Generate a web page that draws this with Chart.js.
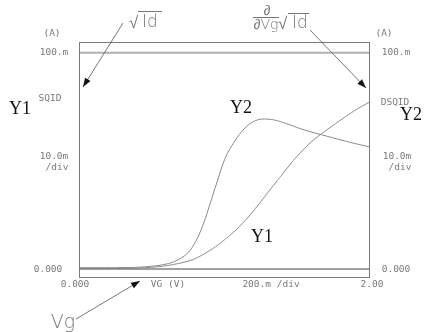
<!DOCTYPE html>
<html>
<head>
<meta charset="utf-8">
<script src="https://cdn.jsdelivr.net/npm/chart.js@4"></script>
<style>
html,body{margin:0;padding:0;background:#fff;}
#c{display:block;}
</style>
</head>
<body>
<canvas id="c" width="431" height="332"></canvas>
<script>
// Gate voltage VG (V)
const vg = [0.00,0.05,0.10,0.15,0.20,0.25,0.30,0.35,0.40,0.45,0.50,0.55,0.60,0.65,0.70,0.75,0.80,0.85,0.90,0.95,1.00,1.05,1.10,1.15,1.20,1.25,1.30,1.35,1.40,1.45,1.50,1.55,1.60,1.65,1.70,1.75,1.80,1.85,1.90,1.95,2.00];
// Y1: SQID = sqrt(|Id|)   (mA units, axis 10.0m/div)
const sqid = [0.3,0.3,0.3,0.3,0.3,0.3,0.3,0.35,0.4,0.6,0.8,1.1,1.5,2.1,2.8,3.6,4.8,6.6,8.6,10.9,13.5,16.3,19.4,23.0,27.0,31.2,35.5,39.8,44.0,48.3,52.2,55.8,59.0,61.7,64.2,66.6,69.0,71.3,73.5,75.5,77.3];
// Y2: DSQID = d/dVg sqrt(|Id|)
const dsqid = [0.6,0.6,0.6,0.6,0.6,0.6,0.7,0.7,0.8,1.0,1.3,1.7,2.3,3.3,5.0,7.6,12.5,20.0,30.0,40.5,50.5,57.0,62.0,65.8,68.2,69.3,69.3,68.8,67.8,66.7,65.4,64.3,63.3,62.4,61.5,60.6,59.7,58.8,58.0,57.2,56.4];
// reference levels (mA)
const refLevels = [0, 100];
// tick labels
const xTickLabels = ["0.000", "VG (V)", "200.m /div", "2.00"];
const yTickLabels = ["(A)", "100.m", "10.0m", "/div", "0.000"];

const pts = (ys) => vg.map((x,i)=>({x:x, y:ys[i]}));

const mono = '9.5px "DejaVu Sans Mono", monospace';
const labelColor = '#7a7a7a';

const overlay = {
  id:'overlay',
  afterDraw(chart){
    const ctx = chart.ctx;
    const a = chart.chartArea;
    const xs = chart.scales.x, ys = chart.scales.y;
    ctx.save();
    // frame
    ctx.strokeStyle = '#7a7a7a';
    ctx.lineWidth = 1;
    ctx.strokeRect(Math.round(a.left)+0.5, Math.round(a.top)+0.5, Math.round(a.right-a.left)-1, Math.round(a.bottom-a.top));

    ctx.fillStyle = labelColor;
    ctx.font = mono;
    ctx.textBaseline = 'middle';
    ctx.textAlign = 'center';
    const y0 = ys.getPixelForValue(0), y100 = ys.getPixelForValue(100);
    // left axis labels
    ctx.fillText(yTickLabels[0], 52, 34);
    ctx.fillText(yTickLabels[1], 54, y100);
    ctx.fillText('SQID', 50, 99);
    ctx.fillText(yTickLabels[2], 54, 157);
    ctx.fillText(yTickLabels[3], 57, 168);
    ctx.fillText(yTickLabels[4], 48, y0+1);
    // right axis labels
    ctx.fillText(yTickLabels[0], 384, 34);
    ctx.fillText(yTickLabels[1], 396, y100);
    ctx.fillText('DSQID', 395, 103);
    ctx.fillText(yTickLabels[2], 397, 157);
    ctx.fillText(yTickLabels[3], 400, 168);
    ctx.fillText(yTickLabels[4], 396, y0+1);
    // bottom labels
    const yb = 285;
    ctx.fillText(xTickLabels[0], xs.getPixelForValue(0)-4, yb);
    ctx.fillText(xTickLabels[1], 168, yb);
    ctx.fillText(xTickLabels[2], 271, yb);
    ctx.fillText(xTickLabels[3], xs.getPixelForValue(2)+2, yb);

    // Y1/Y2 serif labels
    ctx.fillStyle = '#111';
    ctx.font = '18px "Liberation Serif", serif';
    ctx.fillText('Y1', 20, 109);
    ctx.fillText('Y2', 411, 115);
    ctx.fillText('Y2', 241, 108);
    ctx.fillText('Y1', 262, 237);

    // annotation text
    ctx.fillStyle = '#777';
    ctx.strokeStyle = '#777';
    ctx.font = '300 17px "DejaVu Sans", sans-serif';
    ctx.textAlign = 'left';
    ctx.textBaseline = 'alphabetic';
    // sqrt Id (left)
    ctx.fillText('√', 129, 28);
    ctx.fillText('Id', 142, 27);
    ctx.lineWidth = 1;
    ctx.beginPath(); ctx.moveTo(138, 11.5); ctx.lineTo(162, 11.5); ctx.stroke();
    // d/dVg sqrt Id (right)
    ctx.font = '300 14px "DejaVu Sans", sans-serif';
    ctx.textAlign = 'center';
    ctx.fillText('∂', 267, 15);
    ctx.beginPath(); ctx.moveTo(253, 17.5); ctx.lineTo(279, 17.5); ctx.stroke();
    ctx.fillText('∂Vg', 266, 29);
    ctx.textAlign = 'left';
    ctx.font = '300 17px "DejaVu Sans", sans-serif';
    ctx.fillText('√', 278, 29);
    ctx.fillText('Id', 292, 28);
    ctx.beginPath(); ctx.moveTo(288, 13.5); ctx.lineTo(309, 13.5); ctx.stroke();
    // Vg bottom
    ctx.font = '300 19px "DejaVu Sans", sans-serif';
    ctx.textAlign = 'center';
    ctx.fillText('Vg', 63, 328);

    // arrows
    function arrow(x1,y1,x2,y2){
      ctx.strokeStyle = '#555';
      ctx.fillStyle = '#111';
      ctx.lineWidth = 0.8;
      ctx.beginPath(); ctx.moveTo(x1,y1); ctx.lineTo(x2,y2); ctx.stroke();
      const ang = Math.atan2(y2-y1, x2-x1);
      const L = 9, W = 3.2;
      const bx = x2 - L*Math.cos(ang), by = y2 - L*Math.sin(ang);
      ctx.beginPath();
      ctx.moveTo(x2,y2);
      ctx.lineTo(bx + W*Math.sin(ang), by - W*Math.cos(ang));
      ctx.lineTo(bx - W*Math.sin(ang), by + W*Math.cos(ang));
      ctx.closePath(); ctx.fill();
    }
    arrow(123, 23, 83, 87);
    arrow(310, 30, 366, 88);
    arrow(76, 319, 140, 281);
    ctx.restore();
  }
};

new Chart(document.getElementById('c'), {
  type: 'scatter',
  data: {
    datasets: [
      { label:'ref0', data: [{x:0,y:refLevels[0]},{x:2,y:refLevels[0]}], showLine:true, borderColor:'#808080', borderWidth:1.5, pointRadius:0 },
      { label:'ref100', data: [{x:0,y:refLevels[1]},{x:2,y:refLevels[1]}], showLine:true, borderColor:'#b0b0b0', borderWidth:2, pointRadius:0 },
      { label:'SQID', data: pts(sqid), showLine:true, borderColor:'#8a8a8a', borderWidth:1, pointRadius:0, tension:0.4 },
      { label:'DSQID', data: pts(dsqid), showLine:true, borderColor:'#8a8a8a', borderWidth:1, pointRadius:0, tension:0.4 }
    ]
  },
  options: {
    responsive:false,
    animation:false,
    devicePixelRatio:1,
    layout:{ padding:{ left:79, right:61, top:42, bottom:55 } },
    plugins:{ legend:{display:false}, tooltip:{enabled:false} },
    scales:{
      x:{ type:'linear', min:0, max:2, display:false },
      y:{ type:'linear', min:-3.7, max:105, display:false }
    }
  },
  plugins:[overlay]
});
</script>
</body>
</html>
